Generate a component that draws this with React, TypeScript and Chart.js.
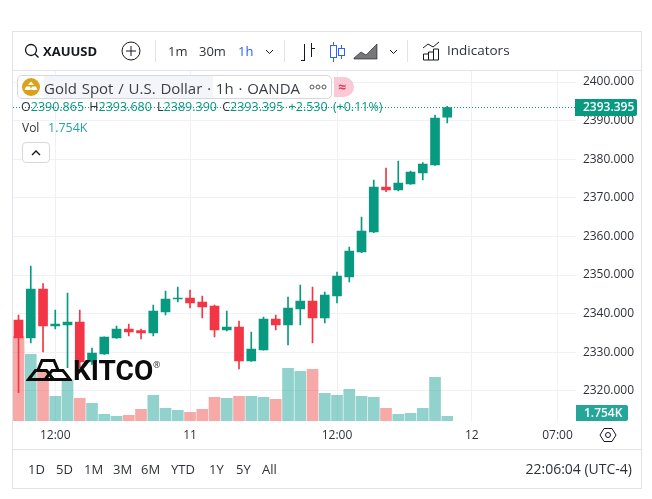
import React, { useEffect, useRef } from "react";
import { Chart, registerables } from "chart.js";

Chart.register(...registerables);

const categories = ["", "", "", "12:00", "", "", "", "", "", "", "", "", "", "", "11", "", "", "", "", "", "", "", "", "", "", "", "12:00", "", "", "", "", "", "", "", "", "", "", "12", "", "", "", "", "", "", "07:00", ""];
const opens = [2338.34, 2333.68, 2346.37, 2336.79, 2337.05, 2337.82, 2327.46, 2329.53, 2333.68, 2336.01, 2335.58, 2334.97, 2340.41, 2343.78, 2344.04, 2343.0, 2341.97, 2335.75, 2336.53, 2327.72, 2330.57, 2338.6, 2337.05, 2341.19, 2343.26, 2338.86, 2344.56, 2349.48, 2355.96, 2361.14, 2372.8, 2372.02, 2373.57, 2376.42, 2378.5, 2390.865];
const highs = [2339.64, 2352.33, 2347.75, 2340.93, 2345.34, 2340.93, 2331.09, 2334.0, 2336.79, 2337.31, 2336.01, 2342.23, 2345.85, 2346.89, 2346.11, 2344.56, 2342.23, 2340.67, 2338.08, 2335.23, 2339.12, 2339.64, 2344.3, 2347.41, 2346.89, 2345.6, 2350.78, 2357.25, 2365.03, 2374.61, 2377.72, 2379.53, 2376.94, 2379.1, 2391.45, 2393.68];
const lows = [2319.52, 2332.38, 2330.05, 2336.01, 2325.99, 2326.0, 2326.86, 2329.4, 2333.6, 2334.2, 2333.42, 2334.2, 2339.64, 2343.0, 2341.45, 2338.86, 2333.94, 2335.49, 2325.65, 2327.6, 2330.5, 2335.75, 2331.87, 2337.05, 2332.38, 2337.56, 2342.75, 2348.19, 2355.79, 2361.0, 2371.59, 2371.76, 2373.5, 2374.61, 2378.4, 2389.39];
const closes = [2333.68, 2346.37, 2336.79, 2337.31, 2337.82, 2327.46, 2329.79, 2333.94, 2336.01, 2335.23, 2334.97, 2340.67, 2343.78, 2344.04, 2342.75, 2341.71, 2335.75, 2336.53, 2327.72, 2330.83, 2338.6, 2337.05, 2341.45, 2343.26, 2338.86, 2344.82, 2349.74, 2356.22, 2361.4, 2372.8, 2372.02, 2373.83, 2376.68, 2378.76, 2390.67, 2393.395];
const volumes = [31.6, 24.9, 18.7, 9.2, 15.3, 8.5, 6.6, 2.5, 1.75, 2.1, 4.4, 9.6, 4.7, 4.0, 3.2, 4.4, 8.8, 8.5, 9.2, 9.2, 8.8, 8.1, 19.7, 18.5, 19.3, 10.3, 9.6, 11.8, 9.2, 8.8, 4.7, 2.5, 2.9, 4.7, 16.3, 1.754];

const lastPrice = "2393.395";
const lastVolume = "1.754K";
const rangeLabels = [["1D", 28], ["5D", 56], ["1M", 84], ["3M", 113], ["6M", 141], ["YTD", 171], ["1Y", 209], ["5Y", 236], ["All", 262]] as const;

const UP = "#089981";
const DOWN = "#F23645";
const VOL_TEAL = "#26a69a";
const FONT = "'Open Sans', sans-serif";
const INK = "#2e3238";
const GRID = "#f0f1f4";

const up = closes.map((c, i) => c >= opens[i]);

function T(p: { x: number; y: number; size?: number; color?: string; weight?: number; right?: boolean; children: React.ReactNode; ls?: number; family?: string; ws?: number }) {
  return (
    <span style={{ position: "absolute", left: p.right ? undefined : p.x, right: p.right ? 652 - p.x : undefined, top: p.y, transform: "translateY(-50%)", fontFamily: p.family || FONT, fontSize: p.size || 12, color: p.color || INK, fontWeight: p.weight || 400, whiteSpace: "pre", lineHeight: 1, letterSpacing: p.ls, wordSpacing: p.ws }}>
      {p.children}
    </span>
  );
}

function Box(p: { x: number; y: number; w: number; h: number; style?: React.CSSProperties }) {
  return <div style={{ position: "absolute", left: p.x, top: p.y, width: p.w, height: p.h, boxSizing: "border-box", ...p.style }} />;
}

const pricePlugin = {
  id: "priceTags",
  afterDatasetsDraw(chart: any) {
    const { ctx, scales } = chart;
    const y = scales.y.getPixelForValue(closes[closes.length - 1]);
    ctx.save();
    ctx.strokeStyle = UP;
    ctx.lineWidth = 1;
    ctx.setLineDash([1, 2]);
    ctx.beginPath();
    ctx.moveTo(13, Math.round(y) + 0.5);
    ctx.lineTo(576, Math.round(y) + 0.5);
    ctx.stroke();
    ctx.restore();
  },
  afterDraw(chart: any) {
    const { ctx, scales } = chart;
    const y = Math.round(scales.y.getPixelForValue(closes[closes.length - 1]));
    ctx.save();
    ctx.fillStyle = UP;
    ctx.beginPath();
    ctx.roundRect(575, y - 8, 62, 17, [0, 2, 2, 0]);
    ctx.fill();
    ctx.beginPath();
    ctx.fillStyle = VOL_TEAL;
    ctx.roundRect(576, 405, 52, 16, [0, 2, 2, 0]);
    ctx.fill();
    ctx.fillStyle = "#ffffff";
    ctx.font = `600 12px ${FONT}`;
    ctx.textBaseline = "middle";
    ctx.textAlign = "left";
    ctx.fillText(lastPrice, 583, y + 1);
    ctx.fillText(lastVolume, 584, 413.5);
    ctx.restore();
  },
};

export default function App() {
  const ref = useRef<HTMLCanvasElement>(null);
  useEffect(() => {
    const chart = new Chart(ref.current!, {
      type: "bar",
      data: {
        labels: categories,
        datasets: [
          { label: "Body", data: opens.map((o, i) => [o, closes[i]]) as any, backgroundColor: up.map((u) => (u ? UP : DOWN)), barThickness: 9, grouped: false, order: 1, minBarLength: 1, yAxisID: "y" } as any,
          { label: "Wick", data: lows.map((l, i) => [l, highs[i]]) as any, backgroundColor: up.map((u) => (u ? UP : DOWN)), barThickness: 1, grouped: false, order: 2, yAxisID: "y" } as any,
          { label: "Volume", data: volumes, backgroundColor: up.map((u) => (u ? "rgba(38,166,154,0.5)" : "rgba(239,83,80,0.5)")), barThickness: 11, grouped: false, order: 3, yAxisID: "vol" } as any,
        ],
      },
      options: {
        animation: false,
        responsive: false,
        layout: { padding: { left: 12.4, top: 71, right: 0, bottom: 0 } },
        plugins: { legend: { display: false }, tooltip: { enabled: false } },
        scales: {
          x: {
            offset: true,
            border: { display: false },
            grid: { offset: false, drawTicks: false, color: (c: any) => (c.tick && c.tick.label ? GRID : "rgba(0,0,0,0)") },
            ticks: { autoSkip: false, maxRotation: 0, padding: 7, color: INK, font: { family: FONT, size: 12 } },
            afterFit: (s: any) => { s.height = 78; },
          },
          y: {
            position: "right",
            min: 2312.18,
            max: 2402.85,
            border: { display: false },
            grid: { drawTicks: false, color: GRID },
            ticks: { stepSize: 10, includeBounds: false, align: "center", crossAlign: "near", padding: 7, color: INK, font: { family: FONT, size: 12 }, callback: (v: any) => Number(v).toFixed(3) },
            afterFit: (s: any) => { s.width = 76.1; },
          },
          vol: { display: false, min: 0, max: 130.6 },
        },
      },
      plugins: [pricePlugin],
    } as any);
    return () => chart.destroy();
  }, []);

  return (
    <div style={{ position: "fixed", left: 0, top: 0, width: 652, height: 499, background: "#fff", overflow: "hidden" }}>
      <canvas ref={ref} width={652} height={499} style={{ position: "absolute", left: 0, top: 0, width: 652, height: 499 }} />
      {/* frame and separators */}
      <Box x={12} y={31} w={630} h={458} style={{ border: "1px solid #e0e3eb" }} />
      <Box x={13} y={70} w={628} h={1} style={{ background: "#e0e3eb" }} />
      <Box x={13} y={449} w={628} h={1} style={{ background: "#e0e3eb" }} />
      <Box x={155} y={40} w={1} h={22} style={{ background: "#e0e3eb" }} />
      <Box x={284} y={40} w={1} h={22} style={{ background: "#e0e3eb" }} />
      <Box x={407} y={40} w={1} h={22} style={{ background: "#e0e3eb" }} />

      {/* toolbar */}
      <svg width={652} height={70} style={{ position: "absolute", left: 0, top: 0 }} fill="none" stroke="#131722">
        <circle cx={31} cy={50} r={5.5} strokeWidth={1.3} />
        <path d="M35 54l3.5 3.5" strokeWidth={1.4} />
        <circle cx={131} cy={51} r={9} />
        <path d="M126 51h10M131 46v10" />
        <path d="M266 50l3.5 3.5 3.5-3.5M390 50l3.5 3.5 3.5-3.5" strokeWidth={1} />
        <path d="M304.5 44v17M301 60.5h3.5M311.5 43v14M311.5 48.5h3.5" />
        <path d="M333.5 42v20M341.5 45v14" stroke="#2962ff" />
        <rect x={330.5} y={45.5} width={6} height={12} stroke="#2962ff" fill="#fff" />
        <rect x={338.5} y={48.5} width={6} height={7} stroke="#2962ff" fill="#fff" />
        <path d="M354 58l7-6 5 3 11-11v15h-23z" fill="#777" stroke="#131722" strokeWidth={0.6} />
        <path d="M423 48l5-4 5 3 6-5" />
        <path d="M423.5 60v-6h5v6zM428.5 60v-8h5v8zM433.5 60v-11h5v11z" />
      </svg>
      <T x={43} y={51} size={13} weight={700} color="#131722">XAUUSD</T>
      <T x={168} y={51} size={13}>1m</T>
      <T x={199} y={51} size={13}>30m</T>
      <T x={238} y={51} size={13} color="#2962ff">1h</T>
      <T x={447} y={51} size={13.5}>Indicators</T>

      {/* legend */}
      <Box x={17} y={75} w={315} h={24} style={{ border: "1px solid #d6d8de", borderRadius: 5, background: "#fff" }} />
      <Box x={44} y={76} w={169} h={22} style={{ background: "#f3f5fa" }} />
      <svg width={60} height={30} style={{ position: "absolute", left: 17, top: 72 }}>
        <circle cx={14} cy={15} r={9} fill="#d9a21b" />
        <path d="M14 9.5l3 3.5h-6zM9 14.5h4l1.5 3.5h-7zM19 14.5h-4l-1.5 3.5h7z" fill="#fff" />
      </svg>
      <T x={44} y={87.5} size={15} color="#3a3e46" ws={0.9}>Gold Spot / U.S. Dollar · 1h · OANDA</T>
      <svg width={30} height={12} style={{ position: "absolute", left: 308, top: 81 }} fill="none" stroke="#555">
        <circle cx={4} cy={6} r={2} /><circle cx={10} cy={6} r={2} /><circle cx={16} cy={6} r={2} />
      </svg>
      <Box x={334} y={77} w={20} h={20} style={{ background: "#f9c9d6", borderRadius: "0 10px 10px 0" }} />
      <T x={338} y={87} size={14} color="#e0405e" weight={700}>≈</T>
      <span style={{ position: "absolute", left: 21, top: 107, transform: "translateY(-50%)", fontFamily: FONT, fontSize: 12.5, lineHeight: 1, whiteSpace: "pre", color: UP, wordSpacing: 2 }}>
        <span style={{ color: INK }}>O</span>2390.865 <span style={{ color: INK }}>H</span>2393.680 <span style={{ color: INK }}>L</span>2389.390 <span style={{ color: INK }}>C</span>2393.395 +2.530 (+0.11%)
      </span>
      <T x={22} y={128} size={12}>Vol</T>
      <T x={48} y={128} size={12.5} color={VOL_TEAL}>1.754K</T>
      <Box x={22} y={142} w={28} h={21} style={{ border: "1px solid #d6d8de", borderRadius: 4, background: "#fff" }} />
      <svg width={20} height={12} style={{ position: "absolute", left: 27, top: 147 }} fill="none" stroke="#131722" strokeWidth={1.4}>
        <path d="M5 8l4-4 4 4" />
      </svg>

      {/* watermark */}
      <svg width={46} height={26} style={{ position: "absolute", left: 26, top: 358 }} fill="none" stroke="#0b0b0b" strokeWidth={3} strokeLinejoin="miter">
        <path d="M12 12L16 2.5h12L32 12" />
        <path d="M2.5 21.5l7-9h11l7 9z" />
        <path d="M19 21.5l7-9h11l7 9z" />
      </svg>
      <T x={73} y={371} size={28} weight={700} color="#0b0b0b" family="Roboto, sans-serif">KITCO</T>
      <T x={153} y={364} size={9} color="#333">®</T>

      {/* axis settings */}
      <svg width={24} height={24} style={{ position: "absolute", left: 596, top: 423 }} fill="none" stroke="#131722">
        <path d="M8 5.5h8l4 6.5-4 6.5h-8l-4-6.5z" />
        <circle cx={12} cy={12} r={2.5} />
      </svg>

      {/* bottom bar */}
      {rangeLabels.map(([t, x]) => (
        <T key={t} x={x} y={469} size={13}>{t}</T>
      ))}
      <T x={632} y={469} size={14} right>22:06:04 (UTC-4)</T>
    </div>
  );
}
